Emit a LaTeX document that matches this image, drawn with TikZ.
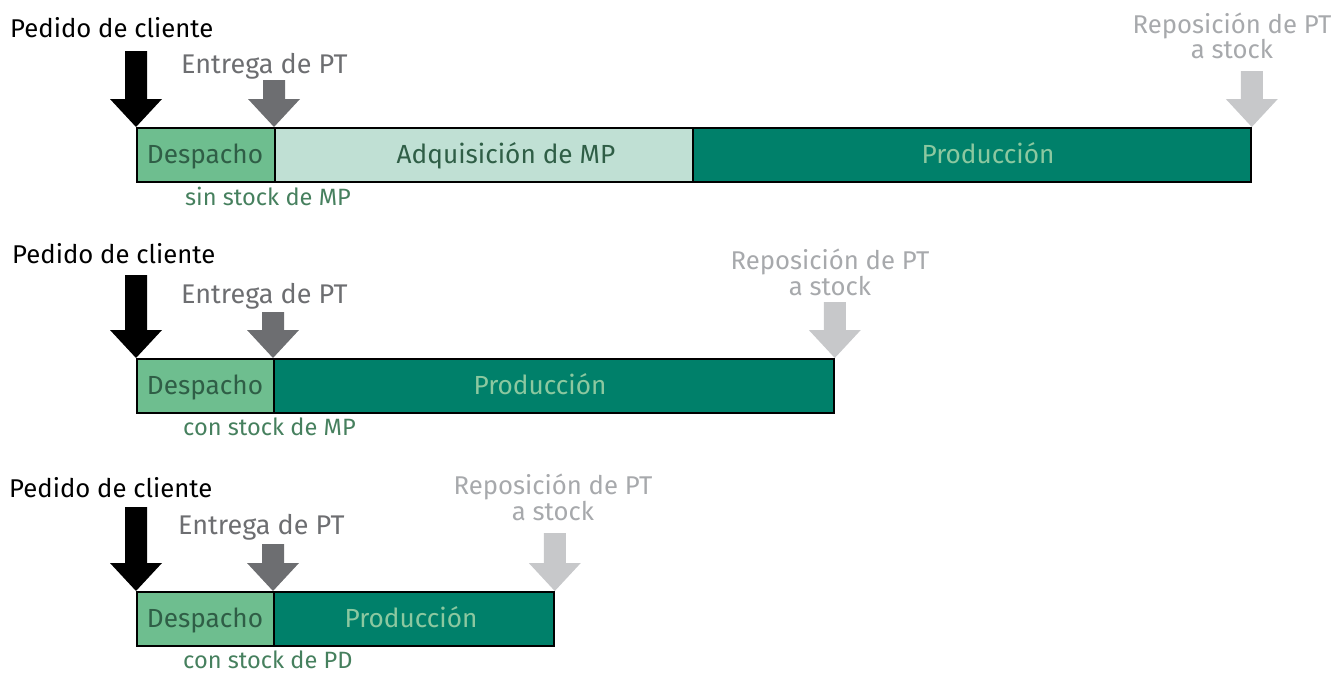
\documentclass[tikz,border=0pt]{standalone}
\usepackage{fontspec}
\setmainfont{Fira Sans}
\definecolor{despF}{HTML}{6EBE8F}
\definecolor{darkG}{HTML}{2F5E46}
\definecolor{adqF}{HTML}{C0E0D4}
\definecolor{prodF}{HTML}{00806A}
\definecolor{prodT}{HTML}{8CC8A0}
\definecolor{entG}{HTML}{6D6E71}
\definecolor{repG}{HTML}{A7A9AC}
\definecolor{arrL}{HTML}{C7C8CA}
\definecolor{smallG}{HTML}{46805E}
\newcommand\dnarrow[3]{%
  \fill[#3, shift={(#1)}] (-11,-#2) -- (11,-#2) -- (11,-28) -- (26,-28) -- (0,0)
    -- (-26,-28) -- (-11,-28) -- cycle;}
\tikzset{
  box/.style={draw=black, line width=1.8pt, anchor=north west, inner sep=0pt,
    minimum height=54, text height=17, text depth=0pt},
  lbl/.style={inner sep=0pt, anchor=base west, font=\fontsize{25.7}{30}\selectfont},
  ent/.style={inner sep=0pt, anchor=base west, text=entG, font=\fontsize{27}{30}\selectfont},
  lblc/.style={inner sep=0pt, anchor=base, font=\fontsize{25.7}{30}\selectfont, text=repG},
  boxtxt/.style={inner sep=0pt, anchor=base, font=\fontsize{26.2}{28}\selectfont},
  small/.style={inner sep=0pt, anchor=base west, font=\fontsize{23.6}{24}\selectfont, text=smallG}
}
\begin{document}
\begin{tikzpicture}[x=1pt,y=-1pt]
\useasboundingbox (0,0) rectangle (1338,675);
% ---------- row 1
\node[box, fill=despF, minimum width=138] (d1) at (136,127) {};
\node[box, fill=adqF, minimum width=418] (a1) at (274,127) {};
\node[box, fill=prodF, minimum width=558] (p1) at (692,127) {};
\node[boxtxt, text=darkG] (d1t) at (205,163) {Despacho};
\node[boxtxt, text=darkG] (a1t) at (506,163) {Adquisición de MP};
\node[boxtxt, text=prodT] (p1t) at (988,163) {Producción};
\dnarrow{d1.north west}{76}{black}
\dnarrow{a1.north west}{47}{entG}
\dnarrow{p1.north east}{56}{arrL}
\node[lbl] (pc1) at (10,37) {Pedido de cliente};
\node[ent] (e1) at (181,73) {Entrega de PT};
\node[lblc] (r1a) at (1232,33) {Reposición de PT};
\node[lblc] (r1b) at (1232,58) {a stock};
\node[small] (s1) at (185,205) {sin stock de MP};
% ---------- row 2
\node[box, fill=despF, minimum width=137] (d2) at (136,358) {};
\node[box, fill=prodF, minimum width=560] (p2) at (273,358) {};
\node[boxtxt, text=darkG] (d2t) at (205,394) {Despacho};
\node[boxtxt, text=prodT] (p2t) at (540,394) {Producción};
\dnarrow{d2.north west}{83}{black}
\dnarrow{p2.north west}{46}{entG}
\dnarrow{p2.north east}{56}{arrL}
\node[lbl] (pc2) at (12,263) {Pedido de cliente};
\node[ent] (e2) at (181,303) {Entrega de PT};
\node[lblc] (r2a) at (830,269) {Reposición de PT};
\node[lblc] (r2b) at (830,295) {a stock};
\node[small] (s2) at (183,435) {con stock de MP};
% ---------- row 3
\node[box, fill=despF, minimum width=137] (d3) at (136,591) {};
\node[box, fill=prodF, minimum width=280] (p3) at (273,591) {};
\node[boxtxt, text=darkG] (d3t) at (205,627) {Despacho};
\node[boxtxt, text=prodT] (p3t) at (411,627) {Producción};
\dnarrow{d3.north west}{84}{black}
\dnarrow{p3.north west}{47}{entG}
\dnarrow{p3.north east}{58}{arrL}
\node[lbl] (pc3) at (9,497) {Pedido de cliente};
\node[ent] (e3) at (178,534) {Entrega de PT};
\node[lblc] (r3a) at (553,494) {Reposición de PT};
\node[lblc] (r3b) at (553,520) {a stock};
\node[small] (s3) at (183,668) {con stock de PD};
\end{tikzpicture}
\end{document}
